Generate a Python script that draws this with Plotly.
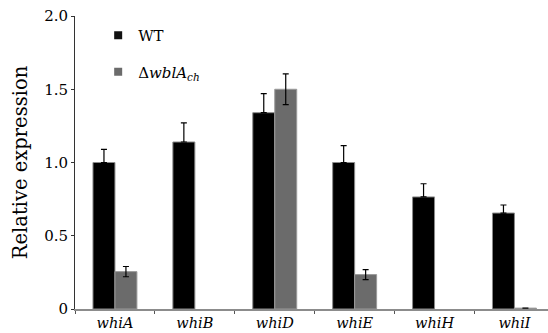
import plotly.graph_objects as go

genes = ["whiA", "whiB", "whiD", "whiE", "whiH", "whiI"]
wt_vals = [1.00, 1.14, 1.34, 1.00, 0.765, 0.655]
wt_err = [0.09, 0.13, 0.13, 0.115, 0.09, 0.055]
mut_vals = [0.255, None, 1.50, 0.235, None, 0.006]
mut_err = [0.035, None, 0.105, 0.034, None, None]
ytick_vals = [0, 0.5, 1.0, 1.5, 2.0]
ytick_text = ["0", "0.5", "1.0", "1.5", "2.0"]

FONT = "DejaVu Serif"
xlabels = [f"<i>{g}</i>" for g in genes]

fig = go.Figure()
fig.add_trace(go.Bar(
    x=xlabels, y=wt_vals, name="WT", showlegend=False,
    marker=dict(color="#000000", line=dict(color="#8a8a8a", width=1)),
    error_y=dict(type="data", array=wt_err, arrayminus=[0]*len(wt_err),
                 color="#000000", thickness=1.2, width=3),
))
fig.add_trace(go.Bar(
    x=xlabels, y=mut_vals, name="mut", showlegend=False,
    marker=dict(color="#6b6b6b", line=dict(color="#9a9a9a", width=1)),
    error_y=dict(type="data", array=mut_err, color="#000000",
                 thickness=1.2, width=3),
))
# legend entries
fig.add_trace(go.Scatter(x=[None], y=[None], mode="markers", name="WT",
                         legendgroup="a",
                         marker=dict(symbol="square", size=8, color="#111111")))
fig.add_trace(go.Scatter(x=[None], y=[None], mode="markers",
                         name="Δ<i>wblA<sub>ch</sub></i>", legendgroup="b",
                         marker=dict(symbol="square", size=8, color="#6b6b6b")))

fig.update_layout(
    width=548, height=333,
    margin=dict(l=74.5, r=0, t=16, b=23.5),
    paper_bgcolor="white", plot_bgcolor="white",
    barmode="group", bargap=0.45, bargroupgap=0,
    font=dict(family=FONT, color="#000000"),
    legend=dict(x=0.049, y=0.99, xanchor="left", yanchor="top",
                font=dict(family=FONT, size=15), tracegroupgap=14,
                traceorder="grouped", bgcolor="rgba(0,0,0,0)"),
    xaxis=dict(type="category", range=[-0.5, 5.42], showline=True,
               linecolor="#8c8c8c", linewidth=1.5, ticks="outside",
               tickson="boundaries", ticklen=3, tickcolor="#555555",
               tickfont=dict(family=FONT, size=14.5), showgrid=False,
               zeroline=False),
    yaxis=dict(range=[0, 2.0], showline=True, linecolor="#333333",
               linewidth=1, ticks="outside", ticklen=3, tickcolor="#333333",
               tickvals=ytick_vals, ticktext=ytick_text,
               tickfont=dict(family=FONT, size=15), showgrid=False,
               zeroline=False,
               title=dict(text="Relative expression",
                          font=dict(family=FONT, size=19.5), standoff=11)),
)

fig.write_html("out.html")
